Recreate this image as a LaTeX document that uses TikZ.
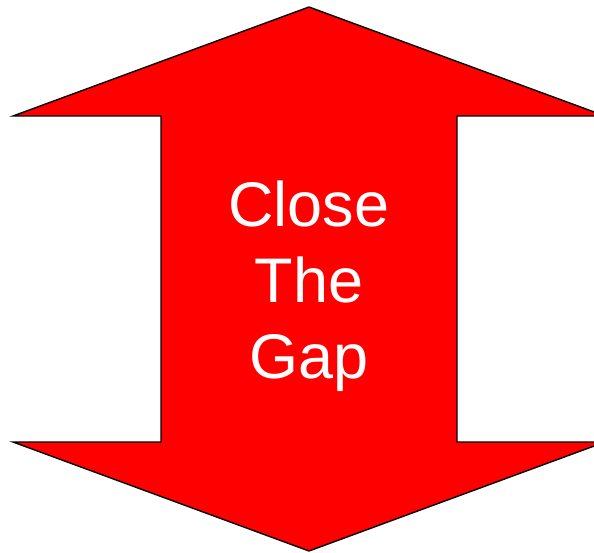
\documentclass[tikz,border=0pt]{standalone}
\usepackage{fontspec}
\setmainfont{Liberation Sans}
\definecolor{arrowred}{RGB}{255,0,0}
\tikzset{
  arrowshape/.style={fill=arrowred, draw=black, line width=1.4pt, line join=miter},
  gaplabel/.style={text=white, font=\fontsize{63}{76}\selectfont, anchor=base, inner sep=0pt}
}
\begin{document}
\begin{tikzpicture}[x=1pt,y=-1pt]
\useasboundingbox (0,0) rectangle (594,553);
\clip (0,0) rectangle (594,553);
\draw[arrowshape] (309,7) -- (605,116) -- (457,116) -- (457,442) -- (605,442)
  -- (309,551) -- (13,442) -- (161,442) -- (161,116) -- (13,116) -- cycle;
\node[gaplabel] (l1) at (309,227) {Close};
\node[gaplabel] (l2) at (309,302) {The};
\node[gaplabel] (l3) at (309,378) {Gap};
\end{tikzpicture}
\end{document}
